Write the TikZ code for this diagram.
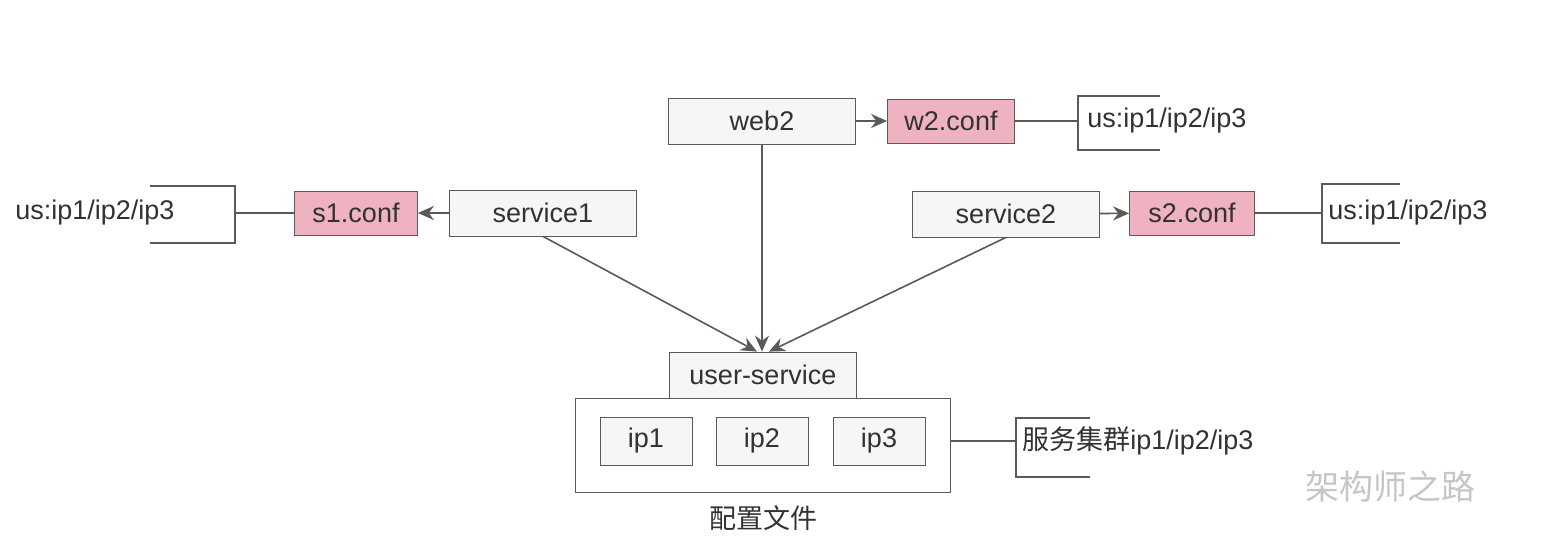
\documentclass[tikz,border=0pt]{standalone}
\usepackage{fontspec}
\setmainfont{Liberation Sans}
\newfontfamily\cjk{Noto Sans CJK SC}
\usetikzlibrary{arrows.meta}
\definecolor{confpink}{RGB}{238,178,192}
\definecolor{boxgray}{RGB}{246,246,248}
\definecolor{linegray}{RGB}{90,90,90}
\definecolor{textgray}{RGB}{50,50,50}
\tikzset{
  every node/.style={text=textgray},
  box/.style={draw=linegray, fill=boxgray, minimum width=93.5pt, minimum height=23pt, font=\fontsize{13.5}{15}\selectfont},
  conf/.style={draw=linegray, fill=confpink, minimum height=22pt, font=\fontsize{13.5}{15}\selectfont},
  ipbox/.style={draw=linegray, fill=boxgray, minimum width=46pt, minimum height=24pt, font=\fontsize{13.5}{15}\selectfont},
  note/.style={anchor=west, font=\fontsize{13.5}{15}\selectfont, inner sep=0pt},
  link/.style={draw=linegray, thick},
  flow/.style={draw=linegray, thick, -{Stealth[length=8pt, width=7pt]}}
}
\begin{document}
\begin{tikzpicture}[x=0.5pt, y=-0.5pt]
\useasboundingbox (0,0) rectangle (1543,558);
\fill[white] (0,0) rectangle (1543,558);
% top row
\node[box] (web2) at (762,121) {web2};
\node[conf, minimum width=63.5pt] (w2conf) at (951,121) {w2.conf};
\node[note] (w2note) at (1087,121) {us:ip1/ip2/ip3};
\draw[link] (1160,96) -- (1078,96) -- (1078,150) -- (1160,150);
% left service
\node[box] (service1) at (543,213) {service1};
\node[conf, minimum width=61.5pt] (s1conf) at (356,213) {s1.conf};
\node[note] (s1note) at (15,213) {us:ip1/ip2/ip3};
\draw[link] (150,186) -- (235,186) -- (235,243) -- (150,243);
% right service
\node[box] (service2) at (1006,214) {service2};
\node[conf, minimum width=62.5pt] (s2conf) at (1192,213) {s2.conf};
\node[note] (s2note) at (1328,213) {us:ip1/ip2/ip3};
\draw[link] (1400,184) -- (1322,184) -- (1322,243) -- (1400,243);
% user-service cluster
\node[box] (user) at (763,375) {user-service};
\node[draw=linegray, fill=white, minimum width=187.5pt, minimum height=47pt] (cluster) at (762.5,445) {};
\node[ipbox] (ip1) at (646,441) {ip1};
\node[ipbox] (ip2) at (762,441) {ip2};
\node[ipbox] (ip3) at (879,441) {ip3};
\node[font=\cjk\fontsize{13.5}{15}\selectfont] (cfg) at (763,518) {配置文件};
\node[note] (cnote) at (1022,441) {{\cjk 服务集群}ip1/ip2/ip3};
\draw[link] (1090,418) -- (1016,418) -- (1016,477) -- (1090,477);
\node[font=\cjk\fontsize{17}{18}\selectfont, text=gray!45] (mark) at (1390,487) {架构师之路};
% connectors
\draw[link] (w2conf.east) -- (1078,121);
\draw[link] (s1conf.west) -- (235,213);
\draw[link] (s2conf.east) -- (1322,213);
\draw[link] (cluster.east |- ip3) -- (1016,441);
\draw[flow] (web2) -- (w2conf);
\draw[flow] (service1) -- (s1conf);
\draw[flow] (service2) -- (s2conf);
\draw[flow] (service1.south) -- ([xshift=-3pt]user.north);
\draw[flow] (web2.south) -- (web2.south |- user.north);
\draw[flow] (service2.south) -- ([xshift=3pt]user.north);
\end{tikzpicture}
\end{document}
